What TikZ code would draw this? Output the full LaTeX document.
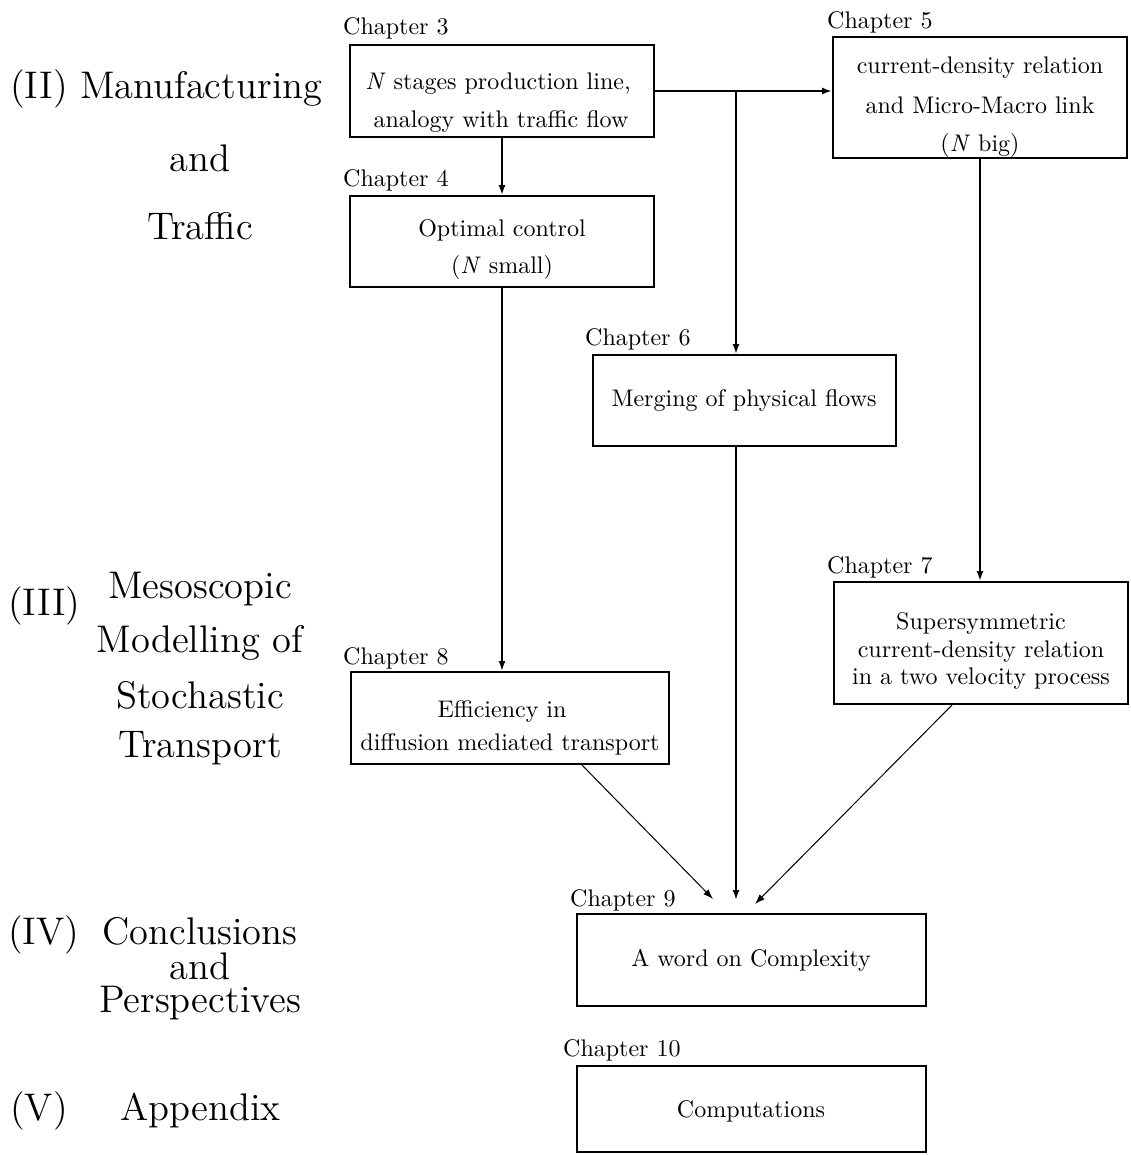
\documentclass[tikz,border=0pt]{standalone}
\usepackage{fontspec}
\newfontfamily\tenrm{lmroman10-regular.otf}[ItalicFont=lmroman10-italic.otf]
\newfontfamily\twelverm{lmroman12-regular.otf}
\usetikzlibrary{arrows.meta}
\begin{document}
\begin{tikzpicture}[x=1pt,y=-1pt,
  box/.style={draw, line width=1.9pt, rectangle, inner sep=0pt},
  sm/.style={font=\tenrm\fontsize{24}{29}\selectfont, inner sep=0pt},
  chap/.style={sm, anchor=base west},
  ln/.style={sm, anchor=base},
  big/.style={font=\twelverm\fontsize{38.5}{46}\selectfont, inner sep=0pt, anchor=base},
  conn/.style={line width=1.9pt, -{Latex[length=10pt,width=7pt]}},
  thinconn/.style={line width=1pt, -{Latex[length=10pt,width=7pt]}}]
\useasboundingbox (0,0) rectangle (1130,1155);

% boxes
\node[box, minimum width=304pt, minimum height=92pt] (b3) at (502,91) {};
\node[box, minimum width=304pt, minimum height=91pt] (b4) at (502,241.5) {};
\node[box, minimum width=294pt, minimum height=121pt] (b5) at (980,97.5) {};
\node[box, minimum width=303pt, minimum height=91pt] (b6) at (744.5,400.5) {};
\node[box, minimum width=294pt, minimum height=122pt] (b7) at (981,643) {};
\node[box, minimum width=318pt, minimum height=92pt] (b8) at (510,718) {};
\node[box, minimum width=349pt, minimum height=92pt] (b9) at (751.5,960) {};
\node[box, minimum width=349pt, minimum height=86pt] (b10) at (751.5,1109) {};

% chapter labels
\node[chap] (c3) at (343,35) {Chapter 3};
\node[chap] (c4) at (343,187) {Chapter 4};
\node[chap] (c5) at (827,29) {Chapter 5};
\node[chap] (c6) at (585,345) {Chapter 6};
\node[chap] (c7) at (827,573) {Chapter 7};
\node[chap] (c8) at (343,664) {Chapter 8};
\node[chap] (c9) at (570,906) {Chapter 9};
\node[chap] (c10) at (563,1056) {Chapter 10};

% box texts
\node[ln] (t3a) at (498,90) {\textit{N} stages production line,};
\node[ln] (t3b) at (501,128) {analogy with traffic flow};
\node[ln] (t4a) at (502,237) {Optimal control};
\node[ln] (t4b) at (502,273) {(\textit{N} small)};
\node[ln] (t5a) at (980,74) {current-density relation};
\node[ln] (t5b) at (980,114) {and Micro-Macro link};
\node[ln] (t5c) at (980,152) {(\textit{N} big)};
\node[ln] (t6a) at (744,406) {Merging of physical flows};
\node[ln] (t7a) at (981,629) {Supersymmetric};
\node[ln] (t7b) at (981,657) {current-density relation};
\node[ln] (t7c) at (981,684) {in a two velocity process};
\node[ln] (t8a) at (502,717) {Efficiency in};
\node[ln] (t8b) at (510,750) {diffusion mediated transport};
\node[ln] (t9a) at (751,966) {A word on Complexity};
\node[ln] (t10a) at (751,1117) {Computations};

% left part labels
\node[big, anchor=base west] (p2a) at (10,99) {(II) Manufacturing};
\node[big] (p2b) at (200,172) {and};
\node[big] (p2c) at (200,240) {Traffic};
\node[big, anchor=base west] (p3a) at (8,615) {(III)};
\node[big] (p3b) at (200,598) {Mesoscopic};
\node[big] (p3c) at (200,652) {Modelling of};
\node[big] (p3d) at (200,708) {Stochastic};
\node[big] (p3e) at (200,757) {Transport};
\node[big, anchor=base west] (p4a) at (8,944) {(IV)};
\node[big] (p4b) at (200,944) {Conclusions};
\node[big] (p4c) at (200,979) {and};
\node[big] (p4d) at (200,1012) {Perspectives};
\node[big, anchor=base west] (p5a) at (10,1120) {(V)};
\node[big, anchor=base west] (p5b) at (120,1120) {Appendix};

% connectors
\coordinate (j) at (736,91);
\coordinate (e1) at (713,899);
\coordinate (e2) at (736,900);
\coordinate (e3) at (755,904);
\coordinate (s8) at (581,764);
\coordinate (s7) at (953,704);
\draw[conn] (b3.east) -- (b3.east -| b5.west);
\draw[conn] (j) -- (j |- b6.north);
\draw[conn] (b3.south) -- (b4.north);
\draw[conn] (b4.south) -- (b4.south |- b8.north);
\draw[conn] (b5.south) -- (b5.south |- b7.north);
\draw[conn] (j |- b6.south) -- (e2);
\draw[thinconn] (s8) -- (e1);
\draw[thinconn] (s7) -- (e3);
\end{tikzpicture}
\end{document}
